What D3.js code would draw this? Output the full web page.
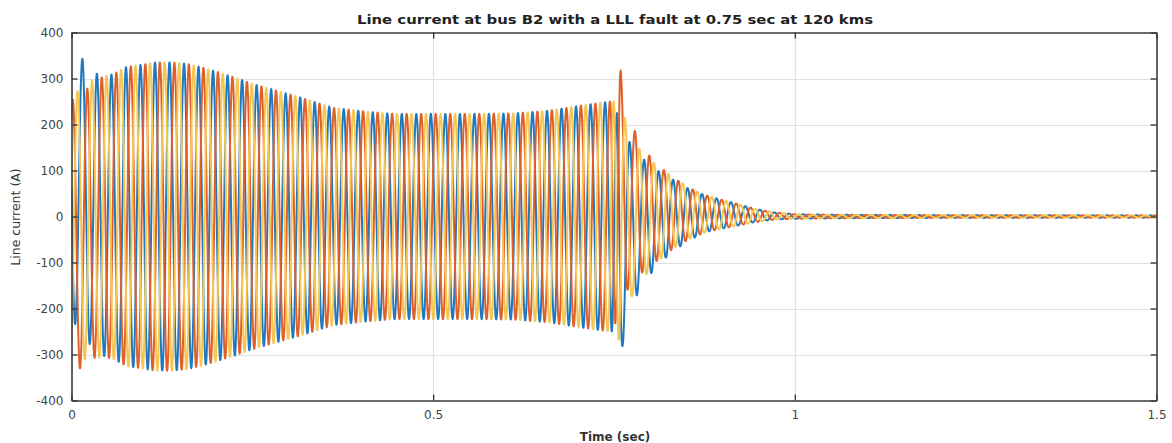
<!DOCTYPE html>
<html><head><meta charset="utf-8">
<script src="https://cdn.jsdelivr.net/npm/d3@7"></script>
<style>body{margin:0;background:#fff}svg{display:block}</style>
</head><body><svg id="c" width="1172" height="443"></svg>
<script>
// ---- data ----
const titleText = "Line current at bus B2 with a LLL fault at 0.75 sec at 120 kms";
const xLabel = "Time (sec)";
const yLabel = "Line current (A)";
const xTicks = [0, 0.5, 1, 1.5];
const xTickLabels = ["0", "0.5", "1", "1.5"];
const yTicks = [-400, -300, -200, -100, 0, 100, 200, 300, 400];
const yTickLabels = ["-400", "-300", "-200", "-100", "0", "100", "200", "300", "400"];
const seriesNames = ["Phase A", "Phase B", "Phase C"];
const seriesColors = ["#2078bf", "#e0602a", "#f6c650"];
const freqHz = 50;
// peak amplitude envelope (A)
const envTime = [0, 0.02, 0.035, 0.057, 0.076, 0.097, 0.117, 0.137, 0.159, 0.178, 0.196, 0.224, 0.251, 0.316, 0.362, 0.408, 0.445, 0.5, 0.55, 0.611, 0.66, 0.703, 0.745, 0.755, 0.765, 0.775, 0.795, 0.814, 0.835, 0.856, 0.877, 0.9, 0.92, 0.943, 0.97, 1.0, 1.05, 1.1, 1.2, 1.5];
const envAmp  = [290, 297, 303, 309, 325, 330, 335, 335, 332, 325, 317, 303, 288, 259, 236, 228, 223, 223, 223, 224, 230, 241, 250, 250, 232, 168, 128, 98, 74, 54, 40, 31, 24, 15, 8, 5, 4, 3.5, 3, 2.5];
// time of a positive peak of each phase (s), before and after the fault
const phaseTime = [0, 0.745, 0.76, 1.5];
const peakA = [0.0150, 0.0177, 0.0118, 0.0118];
const peakB = [0.0217, 0.0244, 0.0190, 0.0190];
const peakC = [0.0283, 0.0311, 0.0252, 0.0252];
// offsets (A) of each phase
const dcTime = [0, 0.012, 0.03, 0.05, 0.75, 0.758, 0.776, 0.8, 0.83, 0.88, 0.95, 1.0, 1.5];
const dcA = [60, 55, 10, 0, 0, -50, -20, -6, 2, 6, 2, 0, 0];
const dcB = [-36, -36, -6, 0, 0, 78, 28, 10, 8, 6, 2, 0, 0];
const dcC = [-22, -20, -4, 0, 0, -25, -4, 4, 8, 6, 2, 0, 0];

// ---- chart ----
const m = {left: 71.5, right: 1156.5, top: 32.5, bottom: 400.5};
const svg = d3.select("#c");
const x = d3.scaleLinear().domain([0, 1.5]).range([m.left, m.right]);
const y = d3.scaleLinear().domain([-400, 400]).range([m.bottom, m.top]);

const lerp = (ts, vs) => d3.scaleLinear().domain(ts).range(vs).clamp(true);
const env = lerp(envTime, envAmp);
const peaks = [peakA, peakB, peakC].map(p => lerp(phaseTime, p));
const dcs = [dcA, dcB, dcC].map(d => lerp(dcTime, d));

const tSamples = d3.range(0, 1.5 + 1e-9, 0.0002);
const series = seriesNames.map((name, k) => ({
  name, color: seriesColors[k],
  values: tSamples.map(t => [t, env(t) * Math.cos(2 * Math.PI * freqHz * (t - peaks[k](t))) + dcs[k](t)])
}));

const FONT = "DejaVu Sans, Verdana, sans-serif";

// grid
const g = svg.append("g");
g.selectAll(".gy").data(yTicks.slice(1, -1)).join("line")
  .attr("x1", m.left).attr("x2", m.right)
  .attr("y1", d => Math.round(y(d)) + 0.5).attr("y2", d => Math.round(y(d)) + 0.5)
  .attr("stroke", "#e0e0e0").attr("stroke-width", 1.2);
g.selectAll(".gx").data(xTicks.slice(1, -1)).join("line")
  .attr("y1", m.top).attr("y2", m.bottom)
  .attr("x1", d => Math.round(x(d)) + 0.5).attr("x2", d => Math.round(x(d)) + 0.5)
  .attr("stroke", "#e0e0e0").attr("stroke-width", 1.2);

// lines
svg.append("defs").append("clipPath").attr("id", "clip").append("rect")
  .attr("x", m.left).attr("y", m.top).attr("width", m.right - m.left).attr("height", m.bottom - m.top);
const line = d3.line().x(d => x(d[0])).y(d => y(d[1]));
svg.append("g").attr("clip-path", "url(#clip)").selectAll("path").data(series).join("path")
  .attr("d", d => line(d.values)).attr("fill", "none")
  .attr("stroke", d => d.color).attr("stroke-width", 2).attr("stroke-linejoin", "round");

// axes (MATLAB style box, inward ticks)
const axisColor = "#3a3a3a";
const styleAxis = sel => {
  sel.select(".domain").attr("stroke", axisColor).attr("stroke-width", 1.6);
  sel.selectAll(".tick line").attr("stroke", axisColor).attr("stroke-width", 1.4);
  sel.selectAll(".tick text").attr("fill", "#444").attr("font-family", FONT).attr("font-size", 12);
};
svg.append("g").attr("transform", `translate(0,${m.bottom})`)
  .call(d3.axisBottom(x).tickValues(xTicks).tickFormat((d, i) => xTickLabels[i]).tickSizeInner(-6).tickSizeOuter(0).tickPadding(10))
  .call(styleAxis);
svg.append("g").attr("transform", `translate(0,${m.top})`)
  .call(d3.axisTop(x).tickValues(xTicks).tickFormat("").tickSizeInner(-6).tickSizeOuter(0))
  .call(styleAxis);
svg.append("g").attr("transform", `translate(${m.left},0)`)
  .call(d3.axisLeft(y).tickValues(yTicks).tickFormat((d, i) => yTickLabels[i]).tickSizeInner(-6).tickSizeOuter(0).tickPadding(8))
  .call(styleAxis);
svg.append("g").attr("transform", `translate(${m.right},0)`)
  .call(d3.axisRight(y).tickValues(yTicks).tickFormat("").tickSizeInner(-6).tickSizeOuter(0))
  .call(styleAxis);

// texts
svg.append("text").attr("x", 615).attr("y", 24).attr("text-anchor", "middle")
  .attr("font-family", FONT).attr("font-weight", "bold").attr("font-size", 12).attr("fill", "#222")
  .attr("textLength", 516).attr("lengthAdjust", "spacingAndGlyphs")
  .text(titleText);
svg.append("text").attr("x", 615).attr("y", 441).attr("text-anchor", "middle")
  .attr("font-family", FONT).attr("font-weight", "bold").attr("font-size", 12).attr("fill", "#333")
  .text(xLabel);
svg.append("text").attr("transform", `translate(20,217) rotate(-90)`).attr("text-anchor", "middle")
  .attr("font-family", FONT).attr("font-size", 12.5).attr("fill", "#333")
  .text(yLabel);
</script></body></html>
